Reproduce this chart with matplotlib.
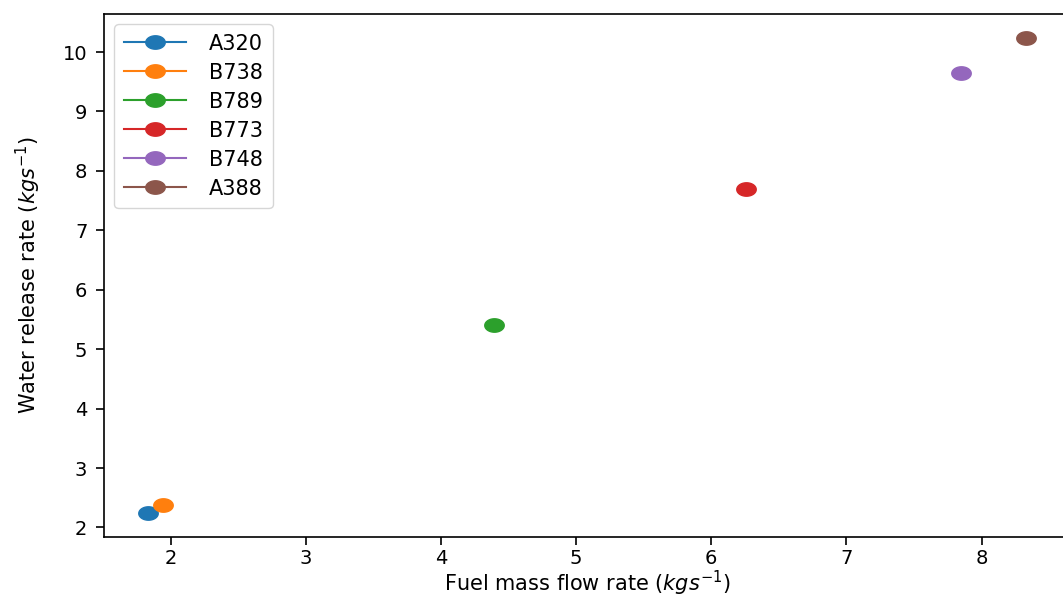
import matplotlib
matplotlib.use("Agg")
import matplotlib.pyplot as plt
import numpy as np
from matplotlib.path import Path

aircraft = ["A320", "B738", "B789", "B773", "B748", "A388"]
fuel_flow = [1.83, 1.94, 4.39, 6.26, 7.85, 8.33]
water_rate = [2.24, 2.38, 5.40, 7.69, 9.65, 10.24]

# slightly wide ellipse marker (the reference is horizontally stretched)
t = np.linspace(0, 2 * np.pi, 60)
ell = Path(np.column_stack([1.45 * np.cos(t), np.sin(t)]), closed=True)

fig = plt.figure(figsize=(10.63, 5.99), dpi=100)
ax = fig.add_axes([104/1063, 1 - 537/599, 966/1063, (537-14)/599])

for name, x, y in zip(aircraft, fuel_flow, water_rate):
    ax.plot([x], [y], '-', marker=ell, markersize=14, label=name)

ax.set_xlabel(r"Fuel mass flow rate ($kgs^{-1}$)", fontsize=15, labelpad=0)
ax.set_ylabel(r"Water release rate ($kgs^{-1}$)", fontsize=15, labelpad=14)
ax.tick_params(labelsize=14, width=1.2, length=6)
ax.tick_params(axis='y', pad=6)
ax.tick_params(axis='x', pad=3)
for s in ax.spines.values():
    s.set_linewidth(1.2)
ax.legend(loc="upper left", fontsize=15, handlelength=3.0, handletextpad=1.1,
          borderaxespad=0.5, labelspacing=0.43, borderpad=0.45)

fig.savefig("out.png", dpi=100)
